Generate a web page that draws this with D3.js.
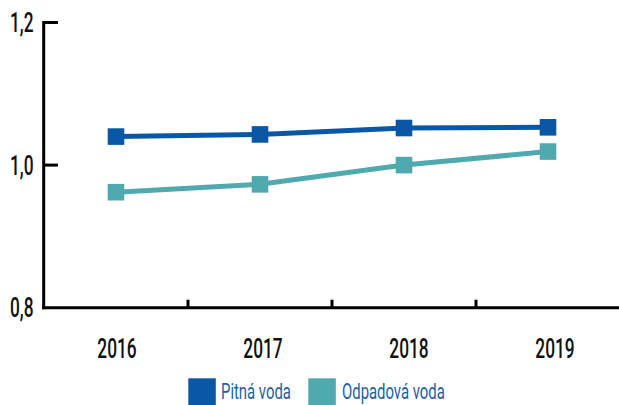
<!DOCTYPE html>
<html>
<head>
<meta charset="utf-8">
<script src="https://cdn.jsdelivr.net/npm/d3@7"></script>
<style>
  html, body { margin: 0; padding: 0; background: #fff; }
  svg { display: block; }
  text { font-family: Roboto, "Liberation Sans", sans-serif; }
</style>
</head>
<body>
<svg id="chart" width="619" height="405"></svg>
<script>
const years = ["2016", "2017", "2018", "2019"];
const pitnaVoda = [1.040, 1.043, 1.052, 1.053];
const odpadovaVoda = [0.962, 0.973, 1.000, 1.019];
const yTicks = [0.8, 1.0, 1.2];
const seriesNames = ["Pitná voda", "Odpadová voda"];
const colors = ["#0a58a5", "#50a9ae"];

const svg = d3.select("#chart");
const W = 619, H = 405;

const x = d3.scaleBand().domain(years).range([44, 620]);
const xLab = d3.scaleBand().domain(years).range([44, 628]);
const y = d3.scaleLinear().domain([0.8, 1.2]).range([307.7, 22.5]);
const fmt = d => d3.format(".1f")(d).replace(".", ",");

// measure a string to derive horizontal condensing factor
function scaleFor(str, size, weight, target) {
  const t = svg.append("text").attr("font-size", size).attr("font-weight", weight).text(str);
  const w = t.node().getComputedTextLength();
  t.remove();
  return target / w;
}
const AX_SIZE = 26.7, AX_W = 500;
const axScale = scaleFor("2016", AX_SIZE, AX_W, 39.3);
const LG_SIZE = 22.5;
const lgScale = scaleFor("Pitná voda", LG_SIZE, 400, 70);

// y axis via d3 axis for tick positions
const yAxis = d3.axisLeft(y).tickValues(yTicks).tickSize(0).tickFormat(fmt);
const gy = svg.append("g").attr("transform", "translate(43.7,0)").call(yAxis);
gy.select(".domain").remove();
gy.selectAll("text").remove();

svg.selectAll(".ylab").data(yTicks).enter().append("text")
  .attr("transform", d => `translate(33.5,${y(d) + 9.5}) scale(${axScale},1)`)
  .attr("text-anchor", "end")
  .attr("font-size", AX_SIZE)
  .attr("font-weight", AX_W)
  .attr("fill", "#111")
  .text(fmt);

svg.append("line").attr("x1", 43.7).attr("x2", 43.7).attr("y1", y(1.2) - 1.5).attr("y2", y(0.8) + 1.5)
  .attr("stroke", "#000").attr("stroke-width", 3);
svg.selectAll(".ytick").data(yTicks.filter(d => d > 0.8)).enter().append("line")
  .attr("x1", 43).attr("x2", 58).attr("y1", d => y(d)).attr("y2", d => y(d))
  .attr("stroke", "#000").attr("stroke-width", 3);

svg.append("line").attr("x1", 42.2).attr("x2", W).attr("y1", y(0.8)).attr("y2", y(0.8))
  .attr("stroke", "#000").attr("stroke-width", 3);
svg.selectAll(".xtick").data(years.slice(1)).enter().append("line")
  .attr("x1", d => x(d)).attr("x2", d => x(d))
  .attr("y1", y(0.8)).attr("y2", y(0.8) - 8)
  .attr("stroke", "#000").attr("stroke-width", 3);
svg.selectAll(".xlab").data(years).enter().append("text")
  .attr("transform", d => `translate(${xLab(d) + xLab.bandwidth() / 2},358.3) scale(${axScale},1)`)
  .attr("text-anchor", "middle")
  .attr("font-size", AX_SIZE)
  .attr("font-weight", AX_W)
  .attr("fill", "#111")
  .text(d => d);

const series = [pitnaVoda, odpadovaVoda];
const line = d3.line().x((d, i) => x(years[i]) + x.bandwidth() / 2).y(d => y(d));
series.forEach((vals, si) => {
  svg.append("path").datum(vals).attr("d", line)
    .attr("fill", "none").attr("stroke", colors[si]).attr("stroke-width", 5);
  svg.selectAll(".m" + si).data(vals).enter().append("rect")
    .attr("x", (d, i) => x(years[i]) + x.bandwidth() / 2 - 8.3)
    .attr("y", d => y(d) - 8.3)
    .attr("width", 16.6).attr("height", 16.6)
    .attr("fill", colors[si]);
});

const legX = [188.3, 308.3];
const legTextX = [221, 342];
seriesNames.forEach((name, i) => {
  svg.append("rect").attr("x", legX[i]).attr("y", 378.3).attr("width", 27.5).attr("height", 27)
    .attr("fill", colors[i]);
  svg.append("text")
    .attr("transform", `translate(${legTextX[i]},399.3) scale(${lgScale},1)`)
    .attr("font-size", LG_SIZE)
    .attr("fill", "#1d5ea6")
    .text(name);
});
</script>
</body>
</html>
